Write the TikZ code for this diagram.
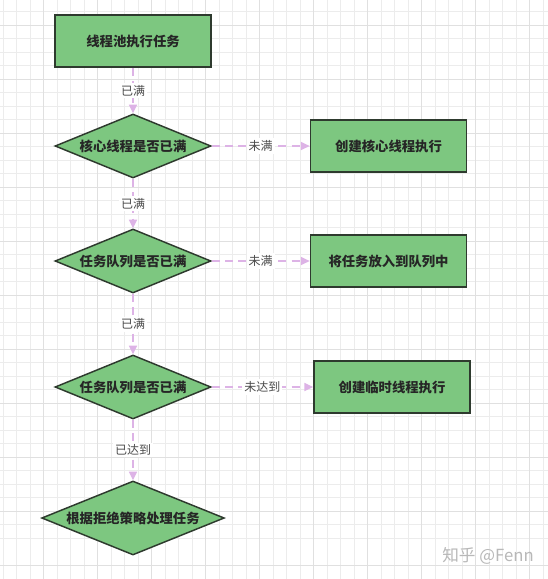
\documentclass[tikz,border=0pt]{standalone}
\usepackage{fontspec}
\setmainfont{Noto Sans CJK SC}
\newfontfamily\cjk{Noto Sans CJK SC}
\usetikzlibrary{shapes.geometric,arrows.meta}
\definecolor{boxfill}{HTML}{7DC780}
\definecolor{boxline}{HTML}{2E3A2E}
\definecolor{arrowc}{HTML}{DDB3E6}
\definecolor{labelc}{HTML}{4A4A4A}
\definecolor{gridminor}{HTML}{ECECEC}
\definecolor{gridmajor}{HTML}{E0E0E0}
\tikzset{
  procbox/.style={draw=boxline, fill=boxfill, line width=1.3pt, minimum width=117pt, minimum height=39pt, inner sep=1pt, font=\cjk\bfseries\fontsize{10}{12}\selectfont, text=black!85},
  decbox/.style={diamond, draw=boxline, fill=boxfill, line width=1.1pt, shape aspect=2.44, minimum width=117pt, minimum height=48pt, inner sep=0.5pt, font=\cjk\bfseries\fontsize{10}{12}\selectfont, text=black!85},
  flow/.style={draw=arrowc, line width=1.1pt, dash pattern=on 6pt off 4pt, -{Triangle[length=6.5pt,width=6pt,fill=arrowc]}},
  elabel/.style={fill=white, inner sep=1.5pt, font=\cjk\fontsize{9}{11}\selectfont, text=labelc}
}
\begin{document}
\begin{tikzpicture}[x=0.75pt,y=-0.75pt]
\useasboundingbox (0,0) rectangle (548,579);
\fill[white] (0,0) rectangle (548,579);
% grid
\foreach \i in {0,...,40} {
  \draw[gridminor, line width=0.6pt] ({3+13.5*\i},0) -- ({3+13.5*\i},579);
  \draw[gridminor, line width=0.6pt] (0,{-2+13.5*\i}) -- (548,{-2+13.5*\i});
}
\foreach \i in {0,...,10} {
  \draw[gridmajor, line width=0.7pt] ({43.5+54*\i},0) -- ({43.5+54*\i},579);
  \draw[gridmajor, line width=0.7pt] (0,{25+54*\i}) -- (548,{25+54*\i});
}
% nodes
\node[procbox] (start) at (133,41) {线程池执行任务};
\node[decbox] (d1) at (133,146) {核心线程是否已满};
\node[procbox] (b1) at (388.5,146) {创建核心线程执行};
\node[decbox] (d2) at (133,261) {任务队列是否已满};
\node[procbox] (b2) at (388.5,261) {将任务放入到队列中};
\node[decbox] (d3) at (133,387) {任务队列是否已满};
\node[procbox] (b3) at (392,387) {创建临时线程执行};
\node[decbox, shape aspect=2.47, minimum width=137pt, minimum height=55.5pt] (d4) at (133,518) {根据拒绝策略处理任务};
% connectors
\draw[flow] (start.south) -- node[elabel] {已满} (d1.north);
\draw[flow] (d1.east) -- node[elabel] {未满} (b1.west);
\draw[flow] (d1.south) -- node[elabel] {已满} (d2.north);
\draw[flow] (d2.east) -- node[elabel] {未满} (b2.west);
\draw[flow] (d2.south) -- node[elabel] {已满} (d3.north);
\draw[flow] (d3.east) -- node[elabel] {未达到} (b3.west);
\draw[flow] (d3.south) -- node[elabel] {已达到} (d4.north);
% watermark
\node[font=\cjk\fontsize{12.5}{14}\selectfont, text=black!28] (wm) at (488,556) {知乎 @Fenn};
\end{tikzpicture}
\end{document}
